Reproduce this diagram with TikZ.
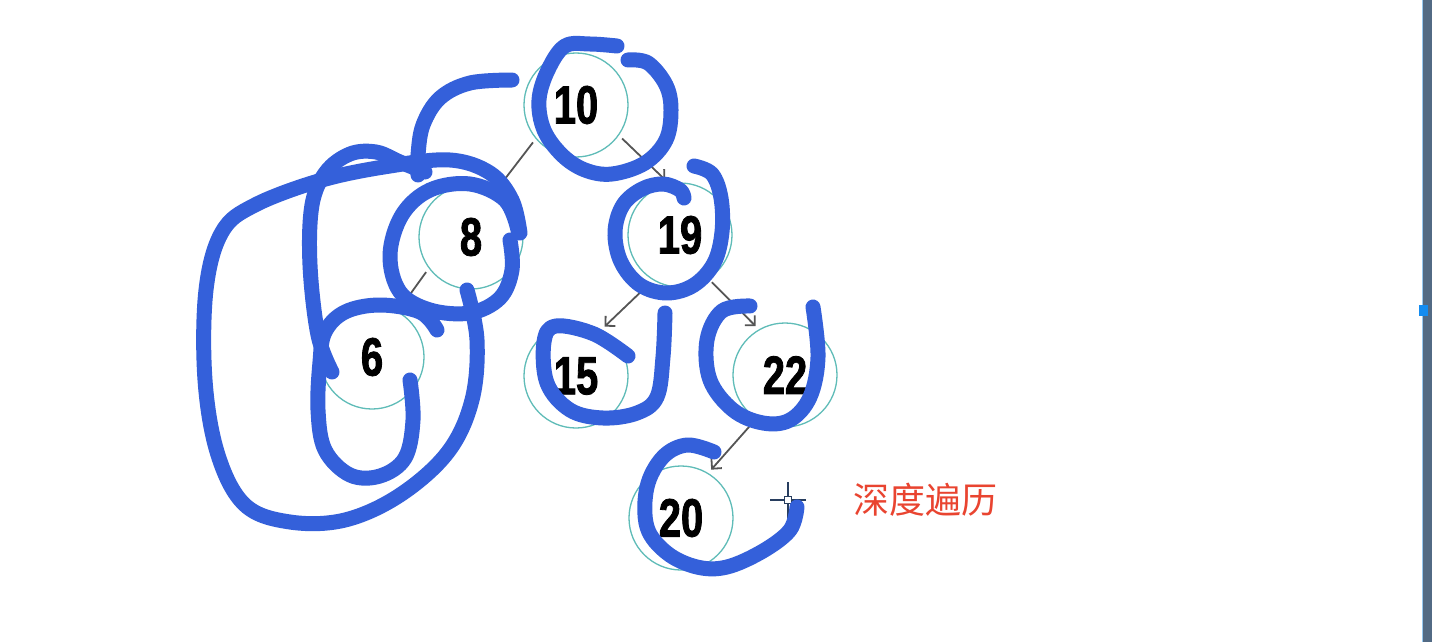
\documentclass[tikz,border=0pt]{standalone}
\usepackage{fontspec}
\setmainfont{Liberation Sans}
\newfontfamily\numfont{Liberation Sans}[FakeStretch=0.74, FakeBold=1.5]
\newfontfamily\cjkfont{Noto Sans CJK SC}
\usetikzlibrary{arrows.meta}
\definecolor{penc}{RGB}{52,96,218}
\definecolor{ringc}{RGB}{95,188,184}
\definecolor{linkc}{RGB}{85,85,85}
\definecolor{redc}{RGB}{233,68,48}
\definecolor{cursc}{RGB}{40,62,95}
\definecolor{barc}{RGB}{82,106,132}
\definecolor{barl}{RGB}{150,200,240}
\definecolor{marker}{RGB}{20,140,240}
\begin{document}
\begin{tikzpicture}[x=1pt,y=-1pt,
  tnode/.style={circle, draw=ringc, line width=1.3pt, minimum size=104pt, inner sep=0pt, outer sep=5pt,
    font=\numfont\bfseries\fontsize{54}{54}\selectfont},
  link/.style={draw=linkc, line width=1.8pt, -{Straight Barb[length=7pt,width=14pt]}},
  ink/.style={draw=penc, line width=15pt, line cap=round, line join=round},
  curs/.style={draw=cursc, line width=1.4pt}
]
\fill[white] (0,0) rectangle (1432,642);
\useasboundingbox (0,0) rectangle (1432,642);

% tree nodes
\node[tnode] (n10) at (576,105) {10};
\node[tnode] (n8)  at (471,237) {8};
\node[tnode] (n19) at (680,235) {19};
\node[tnode] (n6)  at (372,357) {6};
\node[tnode] (n15) at (576,376) {15};
\node[tnode] (n22) at (785,375) {22};
\node[tnode] (n20) at (681,518) {20};

% connectors
\draw[link] (n10.221) -- (n8.61);
\draw[link] (n10.-36) -- (n19.105);
\draw[link] (n8.218) -- (n6.60);
\draw[link] (n19.238) -- (n15.60);
\draw[link] (n19.-56) -- (n22.121);
\draw[link] (n22.236) -- (n20.58);

% label
\node[text=redc, font=\cjkfont\fontsize{36}{36}\selectfont] (lbl) at (925,500) {深度遍历};

% cursor
\coordinate (cur) at (788,500);
\draw[white, line width=3.5pt] ([xshift=-18pt]cur) -- ([xshift=18pt]cur) ([yshift=-18pt]cur) -- ([yshift=18pt]cur);
\draw[curs] ([xshift=-18pt]cur) -- ([xshift=18pt]cur) ([yshift=-18pt]cur) -- ([yshift=18pt]cur);
\draw[curs, fill=white] ([shift={(-3.5,-3.5)}]cur) rectangle ([shift={(3.5,3.5)}]cur);

% right bar
\fill[barc] (1423,0) rectangle (1432,642);
\fill[barl] (1421.5,0) rectangle (1423,642);
\fill[marker] (1419,305) rectangle (1428,316);

% blue pen strokes
% around 10
\draw[ink] plot[smooth, tension=0.6] coordinates {(617,46) (590,44) (565,46) (548,70) (539,100) (544,130) (562,155) (585,170) (612,174) (645,163) (666,140) (671,110) (666,85) (648,63) (628,60)};
% hook top-left
\draw[ink] plot[smooth, tension=0.6] coordinates {(512,80) (470,83) (440,98) (423,125) (418,155) (418,175)};
% big outer loop
\draw[ink] plot[smooth, tension=0.6] coordinates {(520,233) (512,200) (490,173) (450,160) (390,166) (322,180) (255,205) (222,232) (206,290) (205,380) (218,455) (245,505) (290,522) (345,520) (400,495) (448,452) (472,400) (477,340) (467,290)};
% inner loop left vertical
\draw[ink] plot[smooth, tension=0.6] coordinates {(332,372) (318,335) (310,265) (312,205) (326,172) (350,154) (376,152) (400,162) (425,172)};
% around 8
\draw[ink] plot[smooth, tension=0.6] coordinates {(518,230) (505,200) (470,184) (430,190) (402,215) (390,255) (400,292) (430,310) (470,313) (500,298) (512,270) (510,240)};
% around 6
\draw[ink] plot[smooth, tension=0.6] coordinates {(437,330) (420,312) (380,305) (345,312) (325,332) (320,362) (318,410) (325,450) (350,475) (380,476) (405,458) (413,420) (410,380)};
% around 19
\draw[ink] plot[smooth, tension=0.6] coordinates {(694,166) (712,174) (721,198) (722,232) (714,263) (694,285) (667,293) (640,285) (621,262) (615,232) (623,205) (642,189) (663,184) (680,190) (684,198)};
% around 15
\draw[ink] plot[smooth, tension=0.6] coordinates {(628,356) (594,334) (556,326) (544,342) (547,383) (570,410) (603,418) (637,413) (657,397) (663,357) (665,313)};
% around 22
\draw[ink] plot[smooth, tension=0.6] coordinates {(750,306) (722,311) (707,340) (710,380) (733,410) (763,423) (790,420) (810,397) (818,357) (813,307)};
% around 20
\draw[ink] plot[smooth, tension=0.6] coordinates {(714,452) (687,445) (663,457) (647,487) (647,527) (667,553) (697,567) (727,567) (763,551) (790,530) (797,507)};
\end{tikzpicture}
\end{document}
